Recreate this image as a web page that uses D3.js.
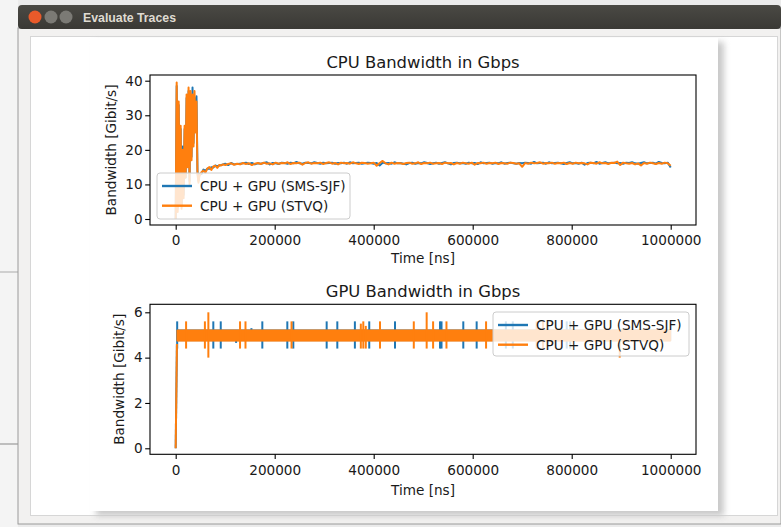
<!DOCTYPE html>
<html>
<head>
<meta charset="utf-8">
<script src="https://cdn.jsdelivr.net/npm/d3@7"></script>
<style>
body{margin:0;background:#e9e9e9;}
svg{display:block;}
text{font-family:"DejaVu Sans",sans-serif;fill:#1a1a1a;}
</style>
</head>
<body>
<svg width="781" height="527"></svg>
<script>
// sample grid of the CPU traces (ns)
var cpuTime=[].concat(d3.range(0,50000,2000),d3.range(52000,104000,4000),d3.range(106000,1000001,6000));

// CPU bandwidth, Gbit/s
var cpuSjf=[0,38.5,3,33,5,26,4,21,7,26,12,35,16,37,11,36,18,38,22,35,28,35.5,14,11,13,
	13.0,14.3,13.9,14.6,14.5,15.0,14.9,15.5,15.2,15.5,15.6,15.8,16.0,
	15.6,16.2,15.8,15.9,16.0,16.1,16.3,15.9,16.2,15.8,
	16.1,16.0,16.2,16.4,15.8,16.2,16.1,15.9,16.3,16.2,
	16.0,16.3,16.1,16.5,16.1,16.0,16.3,16.2,16.1,16.4,
	16.2,16.0,16.3,16.1,16.2,16.3,16.0,16.2,16.1,16.3,
	16.0,16.4,16.1,16.2,16.3,16.0,16.1,16.3,16.2,16.0,
	16.2,15.5,16.3,16.1,16.2,16.0,16.4,16.1,16.2,16.0,
	15.8,16.2,16.3,16.0,16.2,16.1,16.4,16.2,15.9,16.1,
	16.3,16.0,16.2,16.4,16.1,15.8,16.2,16.3,16.1,16.2,
	16.0,16.3,16.1,16.2,15.9,16.4,16.1,16.2,16.3,16.0,
	16.2,16.1,16.4,16.0,16.2,16.3,16.1,16.0,16.2,16.1,
	16.3,16.2,16.0,16.5,16.1,16.2,16.3,16.0,16.4,16.1,
	16.2,16.3,16.1,15.9,16.2,16.4,16.1,16.2,16.0,16.3,
	15.7,16.2,16.3,16.1,16.5,16.0,16.2,16.4,16.1,16.2,
	16.3,16.1,16.2,16.0,16.3,16.2,16.4,16.1,16.0,16.2,
	16.4,16.1,16.2,16.3,16.0,16.5,16.2,16.1,16.3,14.9];

var cpuStvq=[0,39.5,2,34,4,27,3,20,6,27,12,36,15,38,10,37,17,36,21,37,25,34,13,10.5,12.5,
	13.5,14.0,13.4,14.6,15.0,14.2,15.2,15.4,14.8,15.6,15.5,15.8,15.6,
	15.9,16.1,15.7,16.0,15.8,16.2,15.9,16.1,15.6,16.0,
	16.2,15.9,16.3,16.0,16.1,15.8,16.3,16.0,16.2,16.1,
	16.4,15.9,16.2,16.1,16.3,15.7,16.2,16.4,16.0,16.2,
	16.1,16.3,15.9,16.2,16.4,16.0,16.2,15.8,16.3,16.1,
	16.2,16.0,16.4,16.1,15.9,16.3,16.2,16.0,16.1,16.3,
	15.4,16.2,16.8,16.1,15.8,16.3,16.0,16.2,16.1,15.9,
	16.2,16.3,16.0,16.1,16.4,15.9,16.2,16.1,16.3,16.0,
	16.1,16.2,15.9,16.3,16.1,16.2,15.8,16.2,16.0,16.3,
	16.1,16.0,16.3,15.7,16.2,16.1,16.3,16.0,16.2,16.1,
	16.3,15.9,16.2,16.1,16.0,16.3,16.2,16.0,16.1,15.1,
	16.2,16.0,16.3,16.1,16.2,16.4,16.0,16.2,16.1,16.3,
	16.0,16.2,16.1,16.3,15.9,16.2,16.0,16.3,16.1,16.2,
	16.1,15.8,16.3,16.2,16.0,16.4,16.1,16.2,15.9,16.3,
	16.2,16.6,15.6,16.3,16.1,16.0,16.2,15.8,16.1,15.5,
	16.2,16.0,16.3,16.1,15.9,16.2,16.0,16.3,16.1,15.4];

// GPU bandwidth: start ramp, steady oscillation band, isolated spikes
var gpuStartTime=[0,2500];
var gpuStartValue=[0,4.6];
var gpuBandTime=[2500,1000000];
var sjfBand=[4.75,5.22];
var stvqBand=[4.73,5.22];

var sjfSpikeTime=[3000,76000,91000,122000,153000,175000,225500,237600,305000,326500,362000,391000,443000,534000,537000,581000,608000,667000,681000,790000,797000];
var sjfSpikeLow=[4.4,4.4,4.4,4.65,4.8,4.4,4.4,4.4,4.4,4.4,4.4,4.4,4.4,4.4,4.4,4.4,4.4,4.4,4.4,4.4,4.4];
var sjfSpikeHigh=[5.6,5.6,5.6,5.1,5.3,5.6,5.6,5.6,5.6,5.6,5.6,5.6,5.6,5.6,5.6,5.6,5.6,5.6,5.6,5.6,5.6];

var stvqSpikeTime=[21000,59000,66000,130000,141000,234000,374000,379000,384000,412700,481000,507000,520000,547000,627000,729000,742000,897000];
var stvqSpikeLow=[4.4,4.4,4.0,4.4,4.4,4.4,4.4,4.4,4.4,4.4,4.4,4.4,4.4,4.4,4.4,4.4,4.4,4.0];
var stvqSpikeHigh=[5.6,5.6,6.0,5.6,5.6,5.6,5.5,5.6,5.4,5.6,5.6,6.0,5.6,5.6,5.6,5.6,5.6,5.22];

var xTicks=[0,200000,400000,600000,800000,1000000];
var cpuTicks=[0,10,20,30,40];
var gpuTicks=[0,2,4,6];
var seriesNames=['CPU + GPU (SMS-SJF)','CPU + GPU (STVQ)'];
var blue='#1f77b4', orange='#ff7f0e';

var svg=d3.select('svg');

// ---- window chrome ----
svg.append('rect').attr('x',0).attr('y',0).attr('width',781).attr('height',527).attr('fill','#ebebeb');
svg.append('rect').attr('x',0).attr('y',0).attr('width',18).attr('height',527).attr('fill','#f4f4f4');
svg.append('line').attr('x1',0).attr('x2',18).attr('y1',272).attr('y2',272).attr('stroke','#aaa');
svg.append('line').attr('x1',0).attr('x2',18).attr('y1',444).attr('y2',444).attr('stroke','#888');
svg.append('rect').attr('x',18).attr('y',28).attr('width',763).attr('height',496).attr('fill','#f2f1f0').attr('stroke','#9a9a9a');
var grad=svg.append('defs').append('linearGradient').attr('id','tb').attr('x1',0).attr('x2',0).attr('y1',0).attr('y2',1);
grad.append('stop').attr('offset',0).attr('stop-color','#4a4944');
grad.append('stop').attr('offset',1).attr('stop-color','#3a3935');
svg.append('rect').attr('x',18).attr('y',5).attr('width',763).attr('height',24).attr('rx',4).attr('fill','url(#tb)');
svg.append('circle').attr('cx',35).attr('cy',17).attr('r',6.5).attr('fill','#e95a2a');
svg.append('circle').attr('cx',51).attr('cy',17).attr('r',6.5).attr('fill','#7b7a75');
svg.append('circle').attr('cx',66).attr('cy',17).attr('r',6.5).attr('fill','#7b7a75');
svg.append('text').attr('x',83).attr('y',21.5).style('font-family','"Liberation Sans",sans-serif')
	.style('font-weight','bold').style('font-size','12.3px').style('fill','#dfdbd2').text('Evaluate Traces');
svg.append('rect').attr('x',30.5).attr('y',36.5).attr('width',747).attr('height',479).attr('fill','#fff').attr('stroke','#d6d6d6');
svg.append('rect').attr('x',96).attr('y',42).attr('width',628).attr('height',474).attr('fill','#c9c9c9').style('filter','blur(3px)');
svg.append('rect').attr('x',90).attr('y',38).attr('width',628).attr('height',473).attr('fill','#fff');

// ---- scales ----
var x=d3.scaleLinear().domain([-51900,1051100]).range([150,696]);
var yCpu=d3.scaleLinear().domain([-1.735,41.65]).range([225,75]);
var yGpu=d3.scaleLinear().domain([-0.265,6.353]).range([454.3,304.3]);

function axes(y,top,bottom,ticks,title,titleY,xLabelY,yLabelX){
	var gx=svg.append('g').attr('transform','translate(0,'+bottom+')')
		.call(d3.axisBottom(x).tickValues(xTicks).tickFormat(d3.format('d')).tickSize(4.8).tickPadding(6).tickSizeOuter(0));
	var gy=svg.append('g').attr('transform','translate(150,0)')
		.call(d3.axisLeft(y).tickValues(ticks).tickFormat(d3.format('d')).tickSize(4.8).tickPadding(2.6).tickSizeOuter(0));
	[gx,gy].forEach(function(g){
		g.select('.domain').remove();
		g.selectAll('line').attr('stroke','#000').attr('stroke-width',1.1);
		g.selectAll('text').style('font-size','13.6px').style('font-family','"DejaVu Sans",sans-serif').attr('fill','#1a1a1a');
	});
	svg.append('rect').attr('x',150).attr('y',top).attr('width',546).attr('height',bottom-top)
		.attr('fill','none').attr('stroke','#000').attr('stroke-width',1.1);
	svg.append('text').attr('x',423).attr('y',titleY).style('text-anchor','middle').style('font-size','16.4px').text(title);
	svg.append('text').attr('x',423).attr('y',xLabelY).style('text-anchor','middle').style('font-size','13.6px').text('Time [ns]');
	svg.append('text').attr('transform','translate('+yLabelX+','+((top+bottom)/2)+') rotate(-90)')
		.style('text-anchor','middle').style('font-size','13.6px').text('Bandwidth [Gibit/s]');
}

function legend(x0,y0,w,h){
	var g=svg.append('g');
	g.append('rect').attr('x',x0).attr('y',y0).attr('width',w).attr('height',h).attr('rx',3)
		.attr('fill','#fff').attr('fill-opacity',0.8).attr('stroke','#cccccc').attr('stroke-width',1);
	[blue,orange].forEach(function(c,i){
		var ly=y0+13+i*19.7;
		g.append('line').attr('x1',x0+5).attr('x2',x0+35).attr('y1',ly).attr('y2',ly)
			.attr('stroke',c).attr('stroke-width',2.4);
		g.append('text').attr('x',x0+43).attr('y',ly+5).style('font-size','13.6px').text(seriesNames[i]);
	});
}

// ---- CPU chart ----
var cpuLine=d3.line().x(function(d,i){return x(cpuTime[i]);}).y(function(d){return yCpu(d);});
svg.append('path').datum(cpuSjf).attr('d',cpuLine).attr('fill','none').attr('stroke',blue)
	.attr('stroke-width',2).attr('stroke-linejoin','round');
svg.append('path').datum(cpuStvq).attr('d',cpuLine).attr('fill','none').attr('stroke',orange)
	.attr('stroke-width',2).attr('stroke-linejoin','round');
axes(yCpu,75,225,cpuTicks,'CPU Bandwidth in Gbps',68,263,116);
legend(157,173,193,46);

// ---- GPU chart ----
function gpuSeries(band,spT,spL,spH,color){
	var startLine=d3.line().x(function(d,i){return x(gpuStartTime[i]);}).y(function(d){return yGpu(d);});
	svg.append('path').datum(gpuStartValue).attr('d',startLine).attr('fill','none')
		.attr('stroke',color).attr('stroke-width',2);
	var area=d3.area().x(function(d){return x(d);}).y0(yGpu(band[0])).y1(yGpu(band[1]));
	svg.append('path').datum(gpuBandTime).attr('d',area).attr('fill',color).attr('stroke',color).attr('stroke-width',1);
	svg.append('g').selectAll('line').data(spT).enter().append('line')
		.attr('x1',function(d){return x(d);}).attr('x2',function(d){return x(d);})
		.attr('y1',function(d,i){return yGpu(spL[i]);}).attr('y2',function(d,i){return yGpu(spH[i]);})
		.attr('stroke',color).attr('stroke-width',2);
}
gpuSeries(sjfBand,sjfSpikeTime,sjfSpikeLow,sjfSpikeHigh,blue);
gpuSeries(stvqBand,stvqSpikeTime,stvqSpikeLow,stvqSpikeHigh,orange);
axes(yGpu,304.3,454.3,gpuTicks,'GPU Bandwidth in Gbps',297,495,124);
legend(493,312,196,44);
</script>
</body>
</html>
